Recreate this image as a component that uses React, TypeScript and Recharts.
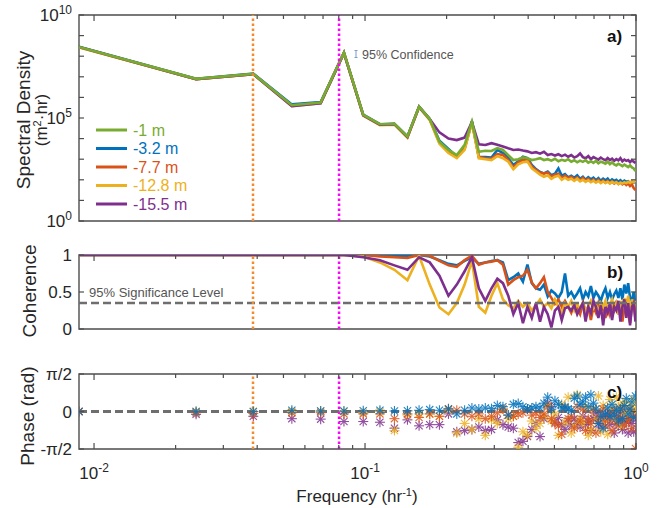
import React from 'react';
import {
  LineChart,
  Line,
  ScatterChart,
  Scatter,
  XAxis,
  YAxis,
  ReferenceLine,
  ReferenceArea,
} from 'recharts';

// ============================================================================
// Data
// ============================================================================

// frequency bins, hr^-1
const freq = [
  0.0088, 0.0238, 0.0387, 0.0537, 0.0686, 0.0836, 0.0985, 0.1135, 0.1284, 0.1434,
  0.1583, 0.1733, 0.1882, 0.2032, 0.2181, 0.2331, 0.248, 0.263, 0.2779, 0.2929,
  0.3078, 0.3228, 0.3377, 0.3527, 0.3676, 0.3826, 0.3975, 0.4125, 0.4274, 0.4424,
  0.4573, 0.4723, 0.4872, 0.5022, 0.5171, 0.5321, 0.547, 0.562, 0.5769, 0.5919,
  0.6068, 0.6218, 0.6367, 0.6517, 0.6666, 0.6816, 0.6965, 0.7115, 0.7264, 0.7414,
  0.7563, 0.7713, 0.7862, 0.8012, 0.8161, 0.8311, 0.846, 0.861, 0.8759, 0.8909,
  0.9058, 0.9208, 0.9357, 0.9507, 0.9656, 0.9806, 0.9955,
];

// spectral density, log10(m^2 hr)
const psdM1 = [
  8.45, 6.9, 7.14, 5.62, 5.75, 8.17, 5.15, 4.7, 4.72, 4.1,
  5.55, 4.95, 3.85, 3.45, 3.2, 3.7, 4.82, 3.36, 3.41, 3.4,
  3.54, 3.45, 3.2, 2.96, 3.0, 3.09, 3.05, 2.96, 3.0, 3.05,
  2.96, 3.0, 2.93, 3.02, 2.9, 2.97, 2.92, 3.0, 2.88, 2.95,
  2.85, 2.93, 2.87, 2.95, 2.83, 2.9, 2.82, 2.92, 2.8, 2.88,
  2.84, 2.78, 2.88, 2.76, 2.85, 2.75, 2.7, 2.78, 2.72, 2.66,
  2.74, 2.68, 2.62, 2.7, 2.6, 2.55, 2.42,
];
const psdM3 = [
  8.46, 6.9, 7.15, 5.66, 5.78, 8.18, 5.16, 4.7, 4.72, 4.1,
  5.56, 4.95, 3.9, 3.5, 3.12, 3.55, 4.85, 3.12, 3.1, 3.08,
  3.45, 3.3, 3.05, 2.72, 2.9, 3.12, 3.05, 2.72, 2.52, 2.38,
  2.31, 2.4, 2.22, 2.3, 2.55, 2.2, 2.28, 2.12, 2.2, 2.1,
  2.22, 2.05, 2.15, 2.0, 2.12, 2.02, 2.1, 1.98, 2.08, 1.95,
  2.05, 1.97, 2.06, 1.92, 2.02, 1.95, 2.0, 1.9, 1.98, 1.88,
  1.96, 1.9, 1.93, 1.85, 1.92, 1.87, 1.9,
];
const psdM8 = [
  8.44, 6.89, 7.13, 5.6, 5.74, 8.16, 5.14, 4.67, 4.7, 4.07,
  5.54, 4.93, 3.8, 3.35, 3.1, 3.5, 4.8, 3.1, 3.05, 3.02,
  3.25, 3.2, 2.96, 2.6, 2.85, 2.96, 3.0, 2.65, 2.48, 2.35,
  2.3, 2.36, 2.15, 2.25, 2.3, 2.1, 2.2, 2.08, 2.15, 2.02,
  2.12, 1.98, 2.1, 1.95, 2.05, 1.92, 2.02, 1.9, 2.0, 1.88,
  1.97, 1.86, 1.95, 1.84, 1.93, 1.82, 1.9, 1.8, 1.88, 1.78,
  1.85, 1.75, 1.82, 1.7, 1.78, 1.6, 1.5,
];
const psdM13 = [
  8.43, 6.88, 7.12, 5.58, 5.72, 8.15, 5.12, 4.65, 4.68, 4.05,
  5.52, 4.9, 3.75, 3.3, 3.05, 3.45, 4.78, 3.04, 3.0, 2.96,
  3.15, 3.05, 2.88, 2.51, 2.75, 2.85, 2.88, 2.55, 2.4, 2.25,
  2.15, 2.22, 2.05, 2.15, 2.2, 2.0, 2.1, 2.0, 2.05, 1.95,
  2.05, 1.92, 2.0, 1.9, 1.98, 1.88, 1.96, 1.86, 1.94, 1.84,
  1.92, 1.85, 1.9, 1.82, 1.9, 1.84, 1.88, 1.8, 1.86, 1.82,
  1.88, 1.84, 1.9, 1.85, 1.92, 1.88, 1.95,
];
const psdM16 = [
  8.45, 6.88, 7.13, 5.58, 5.72, 8.15, 5.13, 4.68, 4.7, 4.08,
  5.53, 4.95, 4.3, 4.0, 3.93, 4.05, 4.8, 3.72, 3.69, 3.78,
  3.7, 3.62, 3.53, 3.45, 3.47, 3.42, 3.38, 3.3, 3.34, 3.27,
  3.36, 3.2, 3.25, 3.18, 3.24, 3.15, 3.22, 3.12, 3.2, 3.08,
  3.15, 3.28, 3.1, 3.05, 3.15, 3.0, 3.1, 3.04, 2.98, 3.08,
  3.0, 2.95, 3.06, 2.96, 3.03, 2.92, 3.0, 2.94, 3.05, 2.9,
  2.98, 2.92, 2.96, 2.86, 2.95, 2.88, 2.82,
];

// coherence with the -1 m record
const cohM3 = [
  1, 1, 1, 1, 1, 1, 1, 1, 0.99, 0.99,
  1, 0.98, 0.93, 0.88, 0.86, 0.92, 0.97, 0.88, 0.9, 0.92,
  0.93, 0.9, 0.66, 0.7, 0.75, 0.64, 0.87, 0.62, 0.55, 0.53,
  0.6, 0.44, 0.52, 0.48, 0.42, 0.5, 0.75, 0.45, 0.5, 0.42,
  0.48, 0.55, 0.4, 0.5, 0.44, 0.58, 0.42, 0.5, 0.45, 0.38,
  0.48, 0.55, 0.42, 0.5, 0.4, 0.47, 0.52, 0.42, 0.55, 0.4,
  0.6, 0.48, 0.62, 0.42, 0.38, 0.5, 0.32,
];
const cohM8 = [
  1, 1, 1, 1, 1, 1, 1, 0.98, 0.97, 0.96,
  1, 0.99, 0.92, 0.86, 0.84, 0.93, 0.99, 0.87, 0.9, 0.91,
  0.93, 0.87, 0.6, 0.66, 0.7, 0.72, 0.8, 0.63, 0.55, 0.62,
  0.7, 0.5, 0.42, 0.34, 0.4, 0.3, 0.38, 0.3, 0.22, 0.33,
  0.28, 0.2, 0.35, 0.25, 0.3, 0.12, 0.3, 0.22, 0.35, 0.25,
  0.3, 0.15, 0.32, 0.2, 0.3, 0.25, 0.38, 0.2, 0.3, 0.1,
  0.28, 0.35, 0.2, 0.08, 0.3, 0.4, 0.15,
];
const cohM13 = [
  1, 1, 1, 1, 1, 1, 0.98, 0.9, 0.8, 0.66,
  0.99, 0.6, 0.29, 0.2, 0.35, 0.6, 0.92, 0.3, 0.22, 0.45,
  0.62, 0.4, 0.32, 0.28, 0.38, 0.3, 0.35, 0.25, 0.32, 0.4,
  0.3, 0.35, 0.28, 0.4, 0.3, 0.22, 0.35, 0.3, 0.38, 0.25,
  0.33, 0.28, 0.36, 0.25, 0.3, 0.38, 0.28, 0.33, 0.22, 0.35,
  0.3, 0.38, 0.25, 0.32, 0.4, 0.28, 0.35, 0.2, 0.38, 0.3,
  0.42, 0.25, 0.45, 0.2, 0.4, 0.3, 0.38,
];
const cohM16 = [
  1, 1, 1, 1, 1, 1, 0.97, 0.93, 0.86, 0.8,
  0.97, 0.9, 0.72, 0.45, 0.6, 0.78, 0.97, 0.55, 0.38, 0.55,
  0.68, 0.62, 0.45, 0.2, 0.35, 0.08, 0.3, 0.15, 0.35, 0.1,
  0.3, 0.2, 0.02, 0.25, 0.3, 0.12, 0.28, 0.3, 0.25, 0.32,
  0.2, 0.28, 0.35, 0.1, 0.3, 0.22, 0.38, 0.3, 0.15, 0.32,
  0.05, 0.3, 0.22, 0.35, 0.12, 0.3, 0.25, 0.38, 0.1, 0.3,
  0.4, 0.15, 0.35, 0.05, 0.3, 0.35, 0.1,
];

// phase relative to the -1 m record, rad
const phM3 = [
  0, 0, 0, 0.05, 0.02, 0.02, 0.03, 0.05, 0.02, 0.03,
  0.05, 0.08, 0.05, 0.1, -0.1, 0.05, 0.15, 0.1, 0.15, 0.12,
  0.25, 0.2, -0.15, 0.3, 0.33, 0.2, 0.1, 0.15, 0.2, 0.15,
  0.35, 0.6, 0.1, 0.45, 0.3, 0.15, 0.2, 0.1, 0.05, 0.55,
  0.65, 0.3, 0.4, 0.6, 0.2, 0.7, 0.35, 0.1, -0.5, -0.2,
  -0.7, -0.1, 0.15, -0.2, 0.3, -0.15, 0.05, -0.4, 0.1, -0.3,
  0.25, 0.55, -0.1, 0.1, 0.4, -0.25, 0.65,
];
const phM8 = [
  0, -0.05, -0.08, -0.05, -0.05, -0.1, -0.1, -0.1, -0.3, -0.1,
  -0.25, -0.1, -0.2, 0.12, 0.05, -0.1, -0.2, -0.1, -0.3, -0.2,
  -0.05, 0.1, -0.15, -0.2, -0.1, -0.05, 0.1, -0.15, -0.05, -0.25,
  -0.1, 0.2, -0.3, -0.5, -0.6, -0.95, 0.15, -0.3, -0.2, -0.7,
  0.2, -0.4, 0.1, -0.8, -0.3, -0.5, 0.05, -0.9, -0.4, -0.25,
  0.1, -0.6, -0.3, -0.1, -0.8, 0.05, -0.5, -0.2, -0.35, 0.15,
  -0.6, -0.4, -0.3, 0.1, -0.7, -0.2, -1.55,
];
const phM13 = [
  0, 0, 0, 0, 0.02, 0, -0.05, 0, -0.8, -0.15,
  -0.1, -0.1, -0.2, 0.05, -0.9, -0.5, -0.75, -0.3, -1.0, -0.35,
  -0.5, 0.1, -0.3, -0.2, -1.5, -0.85, -1.0, -0.4, -0.7, -0.5,
  -0.2, 0.25, -0.4, -0.1, -1.0, 0.3, -0.45, 0.6, -0.9, -0.6,
  0.7, -0.3, -0.5, 0.2, -1.0, -0.75, 0.15, -0.3, 0.65, -0.85,
  0.25, -0.4, -0.95, 0.5, 0.1, -0.3, 0.6, 0.2, -0.6, 0.35,
  -0.1, 0.4, 0.05, -0.2, 0.25, 0.5, 0.1,
];
const phM16 = [
  0, -0.12, -0.2, -0.3, -0.32, -0.42, -0.42, -0.45, -0.7, -0.35,
  -0.6, -0.55, -0.55, -0.1, -0.85, -0.8, -0.75, -0.65, -0.8, -0.75,
  -0.35, -0.55, -0.65, -0.7, -1.3, -1.25, -1.05, -0.75, -0.5, -1.05,
  -0.3, 0.35, 0.2, -0.45, -0.25, -0.55, -0.75, -0.4, -0.6, -0.3,
  -0.5, -0.65, -0.2, -0.55, -0.4, -0.8, -0.3, -0.1, -0.5, -0.65,
  -0.2, -0.4, -0.1, -0.55, -0.35, -0.9, -0.2, -0.6, -0.3, -0.75,
  -0.1, -0.45, -0.9, -0.3, -0.5, -0.85, -0.2,
];

const depthLabels = ['-1 m', '-3.2 m', '-7.7 m', '-12.8 m', '-15.5 m'];
const markerFreqs = [0.0386, 0.0802]; // dotted verticals
const significance = 0.35;

const xTicks = [
  0.01, 0.02, 0.03, 0.04, 0.05, 0.06, 0.07, 0.08, 0.09,
  0.1, 0.2, 0.3, 0.4, 0.5, 0.6, 0.7, 0.8, 0.9, 1,
];
const xLabelTicks = [0.01, 0.1, 1];
const xLabelExp = ['-2', '-1', '0'];
const psdTicks = [1, 1e1, 1e2, 1e3, 1e4, 1e5, 1e6, 1e7, 1e8, 1e9, 1e10];
const psdLabelTicks = [1, 1e5, 1e10];
const psdLabelExp = ['0', '5', '10'];
const cohTicks = [0, 0.5, 1];
const phaseTicks = [-Math.PI / 2, 0, Math.PI / 2];
const phaseLabels = ['-\u03c0/2', '0', '\u03c0/2'];

// ============================================================================
// Style
// ============================================================================

const FONT = '"Liberation Sans", Arial, Helvetica, sans-serif';
const AXIS = '#4d4d4d';
const INK = '#262626';
const GREEN = '#77AC30';
const BLUE = '#0072BD';
const ORANGE = '#D95319';
const YELLOW = '#EDB120';
const PURPLE = '#7E2F8E';
const MARK_ORANGE = '#F58A2A';
const MARK_MAGENTA = '#FF00FF';
const DASH_GRAY = '#6e6e6e';
const legendColors = [GREEN, BLUE, ORANGE, YELLOW, PURPLE];

const W = 661;
const F_DOMAIN: [number, number] = [0.0088, 1];
const PSD_DOMAIN: [number, number] = [1, 1e10];
const COH_DOMAIN: [number, number] = [0, 1];
const PH_DOMAIN: [number, number] = [-Math.PI / 2, Math.PI / 2];

const psdRows = freq.map((f, i) => ({
  f,
  m1: 10 ** psdM1[i],
  m3: 10 ** psdM3[i],
  m8: 10 ** psdM8[i],
  m13: 10 ** psdM13[i],
  m16: 10 ** psdM16[i],
}));

const cohRows = freq.map((f, i) => ({
  f,
  m3: cohM3[i],
  m8: cohM8[i],
  m13: cohM13[i],
  m16: cohM16[i],
}));

const phaseRows = (vals: number[]) => freq.map((f, i) => ({ f, p: vals[i] }));

// ============================================================================
// Ticks (MATLAB style, pointing inward)
// ============================================================================

function makeXTick(side: 'top' | 'bottom', withLabels: boolean) {
  return (props: any) => {
    const { x, y, payload } = props;
    const idx = xLabelTicks.indexOf(payload.value);
    const len = idx >= 0 ? 6 : 4;
    const dir = side === 'bottom' ? -1 : 1;
    return (
      <g>
        <line x1={x} y1={y} x2={x} y2={y + dir * len} stroke={AXIS} strokeWidth={1.2} />
        {withLabels && idx >= 0 && (
          <text x={x} y={y + 30} textAnchor="middle" fontSize={17} fill={INK} fontFamily={FONT}>
            10
            <tspan dy={-7} fontSize={12}>
              {xLabelExp[idx]}
            </tspan>
          </text>
        )}
      </g>
    );
  };
}

function makeYTick(side: 'left' | 'right', label?: (v: number) => React.ReactNode) {
  return (props: any) => {
    const { x, y, payload } = props;
    const dir = side === 'left' ? 1 : -1;
    const content = label ? label(payload.value) : null;
    return (
      <g>
        <line x1={x} y1={y} x2={x + dir * 5} y2={y} stroke={AXIS} strokeWidth={1.2} />
        {content != null && (
          <text x={x - 7} y={y + 6} textAnchor="end" fontSize={17} fill={INK} fontFamily={FONT}>
            {content}
          </text>
        )}
      </g>
    );
  };
}

const psdLabel = (v: number) => {
  const i = psdLabelTicks.indexOf(v);
  if (i < 0) return null;
  return (
    <>
      10
      <tspan dy={-7} fontSize={12}>
        {psdLabelExp[i]}
      </tspan>
    </>
  );
};
const cohLabel = (v: number) => String(v);
const phaseLabel = (v: number) => phaseLabels[phaseTicks.indexOf(v)] ?? null;

// ============================================================================
// Shared axis pieces
// ============================================================================

function xAxes(labels: boolean, bottomHeight: number) {
  return [
    <XAxis
      key="xb"
      dataKey="f"
      type="number"
      scale="log"
      domain={F_DOMAIN}
      allowDataOverflow
      ticks={xTicks}
      interval={0}
      tickSize={0}
      tickMargin={0}
      tickLine={false}
      axisLine={false}
      height={bottomHeight}
      tick={makeXTick('bottom', labels)}
    />,
    <XAxis
      key="xt"
      xAxisId="top"
      orientation="top"
      dataKey="f"
      type="number"
      scale="log"
      domain={F_DOMAIN}
      allowDataOverflow
      ticks={xTicks}
      interval={0}
      tickSize={0}
      tickMargin={0}
      tickLine={false}
      axisLine={false}
      height={1}
      tick={makeXTick('top', false)}
    />,
  ];
}

function yAxes(
  domain: [number, number],
  ticks: number[],
  label: (v: number) => React.ReactNode,
  extra: Record<string, any>
) {
  return [
    <YAxis
      key="yl"
      type="number"
      domain={domain}
      allowDataOverflow
      ticks={ticks}
      interval={0}
      width={79}
      tickSize={0}
      tickMargin={0}
      tickLine={false}
      axisLine={false}
      tick={makeYTick('left', label)}
      {...extra}
    />,
    <YAxis
      key="yr"
      yAxisId="right"
      orientation="right"
      type="number"
      domain={domain}
      allowDataOverflow
      ticks={ticks}
      interval={0}
      width={1}
      tickSize={0}
      tickMargin={0}
      tickLine={false}
      axisLine={false}
      tick={makeYTick('right')}
      {...extra}
    />,
  ];
}

function frame(yDomain: [number, number]) {
  return (
    <ReferenceArea
      key="frame"
      x1={F_DOMAIN[0]}
      x2={F_DOMAIN[1]}
      y1={yDomain[0]}
      y2={yDomain[1]}
      fill="none"
      fillOpacity={0}
      stroke={AXIS}
      strokeWidth={1.4}
      ifOverflow="visible"
    />
  );
}

function markerLines() {
  return [
    <ReferenceLine
      key="m0"
      x={markerFreqs[0]}
      stroke={MARK_ORANGE}
      strokeWidth={2.5}
      strokeDasharray="2.5 2.5"
    />,
    <ReferenceLine
      key="m1"
      x={markerFreqs[1]}
      stroke={MARK_MAGENTA}
      strokeWidth={2.5}
      strokeDasharray="2.5 2.5"
    />,
  ];
}

// ============================================================================
// Panels
// ============================================================================

function SpectrumPanel() {
  const series = [
    { key: 'm3', color: BLUE },
    { key: 'm8', color: ORANGE },
    { key: 'm13', color: YELLOW },
    { key: 'm16', color: PURPLE },
    { key: 'm1', color: GREEN },
  ];
  return (
    <LineChart width={W} height={230} data={psdRows} margin={{ top: 14, right: 24, bottom: 9, left: 0 }}>
      {xAxes(false, 0)}
      {yAxes(PSD_DOMAIN, psdTicks, psdLabel, { scale: 'log' })}
      {frame(PSD_DOMAIN)}
      {series.map((s) => (
        <Line
          key={s.key}
          dataKey={s.key}
          stroke={s.color}
          strokeWidth={2.6}
          dot={false}
          isAnimationActive={false}
        />
      ))}
      {markerLines()}
    </LineChart>
  );
}

function CoherencePanel() {
  const series = [
    { key: 'm3', color: BLUE },
    { key: 'm8', color: ORANGE },
    { key: 'm13', color: YELLOW },
    { key: 'm16', color: PURPLE },
  ];
  return (
    <LineChart width={W} height={100} data={cohRows} margin={{ top: 14, right: 24, bottom: 11, left: 0 }}>
      {xAxes(false, 0)}
      {yAxes(COH_DOMAIN, cohTicks, cohLabel, {})}
      {frame(COH_DOMAIN)}
      {series.map((s) => (
        <Line
          key={s.key}
          dataKey={s.key}
          stroke={s.color}
          strokeWidth={2.6}
          dot={false}
          isAnimationActive={false}
        />
      ))}
      <ReferenceLine y={significance} stroke={DASH_GRAY} strokeWidth={2.5} strokeDasharray="8 4" />
      {markerLines()}
    </LineChart>
  );
}

function Asterisk(props: any) {
  const { cx, cy, fill } = props;
  if (cx == null || cy == null) return null;
  const r = 5;
  const d = 3.6;
  return (
    <g stroke={fill} strokeWidth={1.1} opacity={0.85}>
      <line x1={cx - r} y1={cy} x2={cx + r} y2={cy} />
      <line x1={cx} y1={cy - r} x2={cx} y2={cy + r} />
      <line x1={cx - d} y1={cy - d} x2={cx + d} y2={cy + d} />
      <line x1={cx - d} y1={cy + d} x2={cx + d} y2={cy - d} />
    </g>
  );
}

function PhasePanel() {
  const series = [
    { name: 'm16', vals: phM16, color: PURPLE },
    { name: 'm13', vals: phM13, color: YELLOW },
    { name: 'm8', vals: phM8, color: ORANGE },
    { name: 'm3', vals: phM3, color: BLUE },
  ];
  return (
    <ScatterChart width={W} height={148} margin={{ top: 13, right: 24, bottom: 0, left: 0 }}>
      {xAxes(true, 59)}
      {yAxes(PH_DOMAIN, phaseTicks, phaseLabel, { dataKey: 'p' })}
      {frame(PH_DOMAIN)}
      {series.map((s) => (
        <Scatter
          key={s.name}
          data={phaseRows(s.vals)}
          fill={s.color}
          shape={(p: any) => <Asterisk {...p} />}
          isAnimationActive={false}
        />
      ))}
      <ReferenceLine y={0} stroke={DASH_GRAY} strokeWidth={2.8} strokeDasharray="8 4" />
      {markerLines()}
    </ScatterChart>
  );
}

// ============================================================================
// App
// ============================================================================

export default function App() {
  const legendRows = [130, 148.5, 167, 185.5, 204];
  return (
    <div
      style={{
        position: 'absolute',
        left: 0,
        top: 0,
        width: W,
        height: 508,
        background: '#fff',
        fontFamily: FONT,
      }}
    >
      <div style={{ position: 'absolute', left: 0, top: 0 }}>
        <SpectrumPanel />
      </div>
      <div style={{ position: 'absolute', left: 0, top: 240 }}>
        <CoherencePanel />
      </div>
      <div style={{ position: 'absolute', left: 0, top: 360 }}>
        <PhasePanel />
      </div>

      <svg
        width={W}
        height={508}
        style={{ position: 'absolute', left: 0, top: 0, pointerEvents: 'none' }}
        fontFamily={FONT}
      >
        {/* axis titles */}
        <text transform="translate(30,120) rotate(-90)" textAnchor="middle" fontSize={19} fill={INK}>
          Spectral Density
        </text>
        <text transform="translate(47,120) rotate(-90)" textAnchor="middle" fontSize={17} fill={INK}>
          (m<tspan dy={-6} fontSize={11}>2</tspan>
          <tspan dy={6}>·hr)</tspan>
        </text>
        <text transform="translate(36,291) rotate(-90)" textAnchor="middle" fontSize={19} fill={INK}>
          Coherence
        </text>
        <text transform="translate(34,416) rotate(-90)" textAnchor="middle" fontSize={19} fill={INK}>
          Phase  (rad)
        </text>
        <text x={357} y={502} textAnchor="middle" fontSize={17} fill={INK}>
          Frequency (hr<tspan dy={-6} fontSize={11}>-1</tspan>
          <tspan dy={6}>)</tspan>
        </text>

        {/* panel letters */}
        <text x={607} y={42} fontSize={17} fontWeight="bold" fill="#111">a)</text>
        <text x={607} y={278} fontSize={17} fontWeight="bold" fill="#111">b)</text>
        <text x={607} y={398} fontSize={17} fontWeight="bold" fill="#111">c)</text>

        {/* annotations */}
        <g stroke="#7f9cc4" strokeWidth={1}>
          <line x1={356} y1={50.5} x2={356} y2={57.5} />
          <line x1={354.5} y1={50.5} x2={357.5} y2={50.5} />
          <line x1={354.5} y1={57.5} x2={357.5} y2={57.5} />
        </g>
        <text x={362} y={58.5} fontSize={12.5} fill="#555">95% Confidence</text>
        <text x={89} y={297} fontSize={13} fill="#555">95% Significance Level</text>

        {/* legend */}
        {depthLabels.map((label, i) => (
          <g key={label}>
            <line
              x1={96}
              y1={legendRows[i]}
              x2={127}
              y2={legendRows[i]}
              stroke={legendColors[i]}
              strokeWidth={3}
            />
            <text x={133} y={legendRows[i] + 5.5} fontSize={16} fill={legendColors[i]}>
              {label}
            </text>
          </g>
        ))}
      </svg>
    </div>
  );
}
